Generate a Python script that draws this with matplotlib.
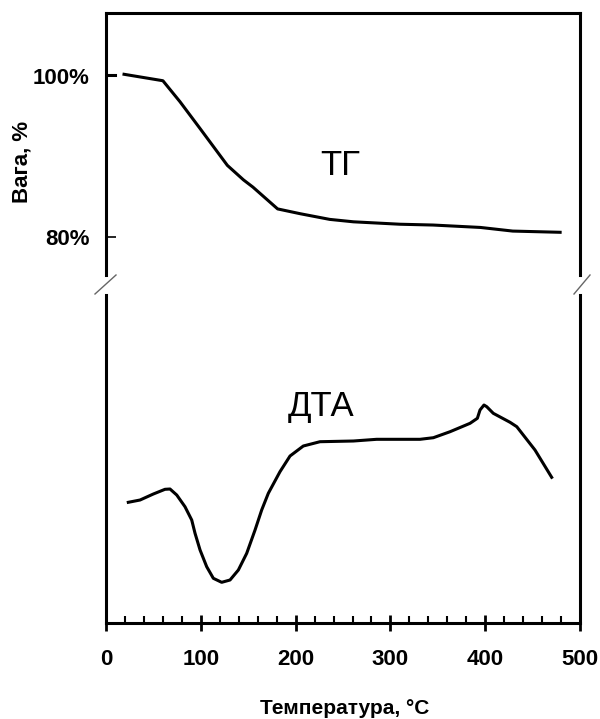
import matplotlib.pyplot as plt
import numpy as np
from matplotlib.lines import Line2D
from matplotlib.ticker import MultipleLocator

plt.rcParams['font.family'] = ['Liberation Sans', 'DejaVu Sans']

# ТГ: маса, %
tg_t = [1, 10, np.nan, 19, 60, 78, 99, 128, 145, 155, 181, 205, 236, 261, 310, 345, 395, 429, 479]
tg_w = [100.05, 100.05, np.nan, 100.2, 99.4, 96.8, 93.5, 88.9, 87.1, 86.2, 83.5, 82.9, 82.2,
        81.9, 81.6, 81.5, 81.2, 80.75, 80.6]

# ДТА: умовні одиниці
dta_t = [23.5, 35.9, 49.9, 62.2, 67.5, 74.6, 83.3, 90.4, 93.9, 99.2, 106.2, 113.2, 122.0,
         130.8, 139.6, 148.4, 157.2, 164.2, 171.2, 183.5, 194.1, 208.1, 225.7, 260.9, 285.5,
         331.2, 345.3, 362.9, 384.0, 391.7, 394.5, 398.7, 401.6, 408.5, 426.2, 433.3, 452.5, 470.1]
dta_v = [12.07, 12.3, 12.9, 13.37, 13.4, 12.8, 11.63, 10.3, 8.97, 7.3, 5.63, 4.47, 4.07,
         4.3, 5.3, 6.97, 9.3, 11.3, 12.97, 15.13, 16.7, 17.7, 18.13, 18.2, 18.37,
         18.37, 18.53, 19.13, 19.97, 20.47, 21.3, 21.8, 21.63, 20.97, 20.07, 19.63, 17.3, 14.57]

y_ticks = [80, 100]
y_labels = ['80%', '100%']
x_ticks = [0, 100, 200, 300, 400, 500]

fig = plt.figure(figsize=(6, 7.19), dpi=100)
ax1 = fig.add_axes([0.1767, 0.6175, 0.79, 0.3644])
ax2 = fig.add_axes([0.1767, 0.1335, 0.79, 0.4562])

lw = 2.2
ax1.plot(tg_t, tg_w, color='black', lw=lw)
ax1.set_xlim(0, 500)
ax1.set_ylim(75.3, 107.8)
ax1.set_yticks(y_ticks)
ax1.set_yticklabels(y_labels)
ax1.set_xticks([])
ax1.spines['bottom'].set_visible(False)
for s in ['top', 'left', 'right']:
    ax1.spines[s].set_linewidth(lw)
ax1.tick_params(axis='y', direction='in', length=7, width=1.2, pad=12, labelsize=16)
for lab in ax1.get_yticklabels():
    lab.set_fontweight('bold')
ax1.text(247, 88.9, 'ТГ', fontsize=25, ha='center', va='center')

ax2.plot(dta_t, dta_v, color='black', lw=lw, solid_joinstyle='round')
ax2.set_xlim(0, 500)
ax2.set_ylim(0, 32.8)
ax2.set_yticks([])
ax2.set_xticks(x_ticks)
ax2.xaxis.set_minor_locator(MultipleLocator(20))
ax2.spines['top'].set_visible(False)
for s in ['bottom', 'left', 'right']:
    ax2.spines[s].set_linewidth(lw)
ax2.tick_params(axis='x', which='major', direction='inout', length=11, width=2, pad=13, labelsize=16)
ax2.tick_params(axis='x', which='minor', direction='in', length=5, width=1.5)
for lab in ax2.get_xticklabels():
    lab.set_fontweight('bold')
ax2.text(227, 21.65, 'ДТА', fontsize=25, ha='center', va='center')

# знаки розриву осі
for x0, x1 in [(95, 116), (574, 590)]:
    fig.add_artist(Line2D([x0 / 600, x1 / 600], [1 - 294 / 719, 1 - 275 / 719],
                          color='#666666', lw=1))

fig.text(22 / 600, 1 - 162 / 719, 'Вага, %', rotation=90, ha='center', va='center',
         fontsize=16, fontweight='bold')
fig.text(345 / 600, 1 - 708 / 719, 'Температура, °C', ha='center', va='center',
         fontsize=15, fontweight='bold')

fig.savefig('out.png', dpi=100)
